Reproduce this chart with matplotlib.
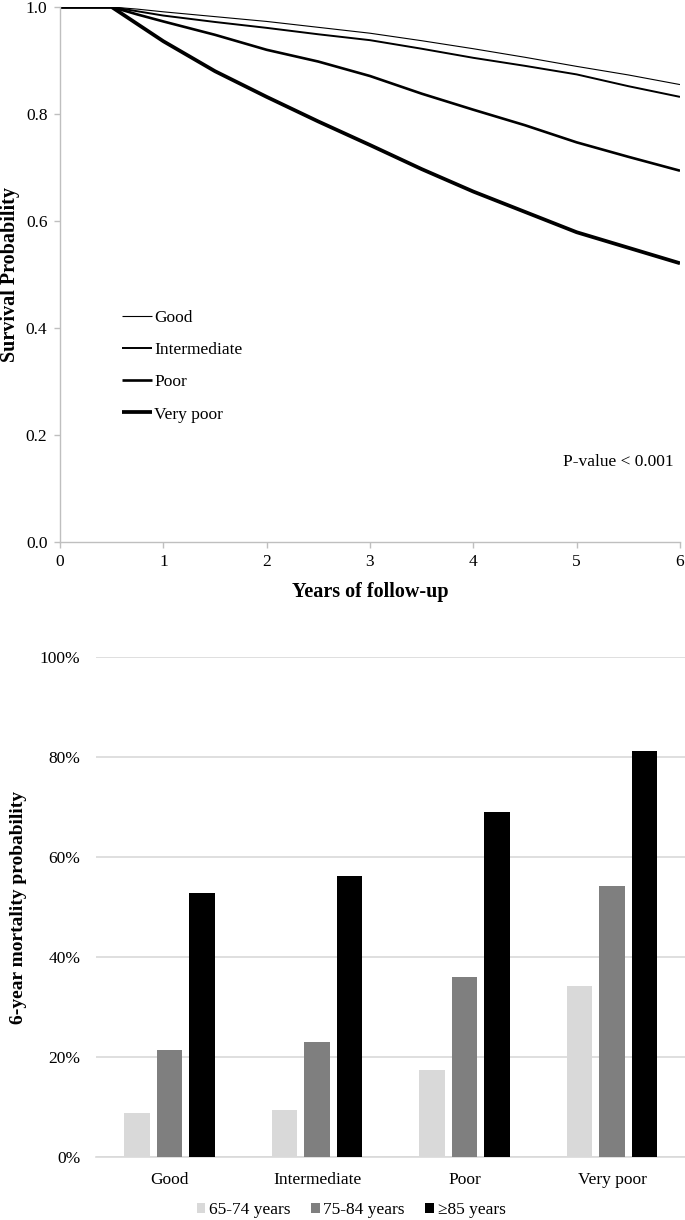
import matplotlib
matplotlib.use("Agg")
import matplotlib.pyplot as plt
from matplotlib.patches import Patch

plt.rcParams['font.family'] = ['Liberation Serif', 'DejaVu Serif']
plt.rcParams['font.size'] = 12.5

# --- survival curves ---
years = [0, 0.5, 0.75, 1, 1.5, 2, 2.5, 3, 3.5, 4, 4.5, 5, 5.5, 6]
surv_good = [1, 1, 0.996, 0.991, 0.982, 0.973, 0.962, 0.951, 0.937, 0.922, 0.906, 0.889, 0.873, 0.855]
surv_inter = [1, 1, 0.992, 0.984, 0.972, 0.961, 0.949, 0.938, 0.922, 0.905, 0.890, 0.874, 0.852, 0.832]
surv_poor = [1, 1, 0.986, 0.973, 0.948, 0.920, 0.898, 0.871, 0.838, 0.808, 0.779, 0.747, 0.720, 0.694]
surv_vpoor = [1, 1, 0.968, 0.936, 0.880, 0.832, 0.786, 0.742, 0.697, 0.655, 0.617, 0.579, 0.550, 0.521]
curve_labels = ['Good', 'Intermediate', 'Poor', 'Very poor']

# --- 6-year mortality by age group ---
groups = ['Good', 'Intermediate', 'Poor', 'Very poor']
age_labels = ['65-74 years', '75-84 years', '\u226585 years']
mort_65_74 = [8.9, 9.4, 17.4, 34.3]
mort_75_84 = [21.4, 23.1, 36.1, 54.2]
mort_85 = [52.9, 56.2, 69.1, 81.3]

W, H = 685, 1220
fig = plt.figure(figsize=(W / 100, H / 100), dpi=100)

axis_grey = '#bfbfbf'

# top panel
ax1 = fig.add_axes([60 / W, 1 - 542 / H, 620 / W, 535 / H])
widths = [0.8, 1.4, 1.9, 2.7]
for ys, lab, lw in zip([surv_good, surv_inter, surv_poor, surv_vpoor], curve_labels, widths):
    ax1.plot(years, ys, color='black', lw=lw, label=lab, solid_capstyle='butt')
ax1.set_xlim(0, 6)
ax1.set_ylim(0, 1.0)
ax1.set_yticks([0, 0.2, 0.4, 0.6, 0.8, 1.0])
ax1.set_yticklabels(['0.0', '0.2', '0.4', '0.6', '0.8', '1.0'])
ax1.set_xticks(range(7))
for s in ['top', 'right']:
    ax1.spines[s].set_visible(False)
for s in ['left', 'bottom']:
    ax1.spines[s].set_color(axis_grey)
    ax1.spines[s].set_linewidth(1.0)
ax1.tick_params(color=axis_grey, length=4, width=1, pad=5)
ax1.set_ylabel('Survival Probability', fontweight='bold', fontsize=14.5)
ax1.yaxis.set_label_coords((20 - 60) / 620, 0.5)
ax1.set_xlabel('Years of follow-up', fontweight='bold', fontsize=14.5, labelpad=8)
ax1.text(5.4, 0.15, 'P-value < 0.001', ha='center', va='center')
ax1.legend(loc='upper left', bbox_to_anchor=(122 / W, 1 - 310 / H), bbox_transform=fig.transFigure,
           frameon=False, borderpad=0, borderaxespad=0, handlelength=1.7, handletextpad=0.15,
           labelspacing=0.92)

# bottom panel
ax2 = fig.add_axes([95.75 / W, 1 - 1157 / H, 590 / W, 500 / H])
x = list(range(len(groups)))
bw = 0.174
step = 0.22
colors = ['#d9d9d9', '#7f7f7f', '#000000']
for i, (vals, c, lab) in enumerate(zip([mort_65_74, mort_75_84, mort_85], colors, age_labels)):
    ax2.bar([xi + (i - 1) * step for xi in x], vals, width=bw, color=c, label=lab, zorder=3)
ax2.set_xlim(-0.5, 3.5)
ax2.set_ylim(0, 100)
ax2.set_yticks(range(0, 101, 20))
ax2.set_yticklabels([f'{v}%' for v in range(0, 101, 20)])
ax2.yaxis.grid(True, color='#d9d9d9', lw=1.2, zorder=0)
ax2.set_xticks(x)
ax2.set_xticklabels(groups)
for s in ['top', 'right', 'left']:
    ax2.spines[s].set_visible(False)
ax2.spines['bottom'].set_color('#d9d9d9')
ax2.spines['bottom'].set_linewidth(1.2)
ax2.tick_params(axis='both', length=0)
ax2.tick_params(axis='y', pad=11)
ax2.tick_params(axis='x', pad=11)
ax2.set_ylabel('6-year mortality probability', fontweight='bold', fontsize=14)
ax2.yaxis.set_label_coords((27 - 95.75) / 590, 0.5)

handles = [Patch(facecolor=c) for c in colors]
fig.legend(handles, age_labels, loc='center', bbox_to_anchor=(351 / W, 1 - 1210 / H),
           ncol=3, frameon=False, handlelength=0.5, handleheight=0.5, handletextpad=0.2,
           columnspacing=1.2, borderpad=0)

fig.savefig('out.png', dpi=100)
